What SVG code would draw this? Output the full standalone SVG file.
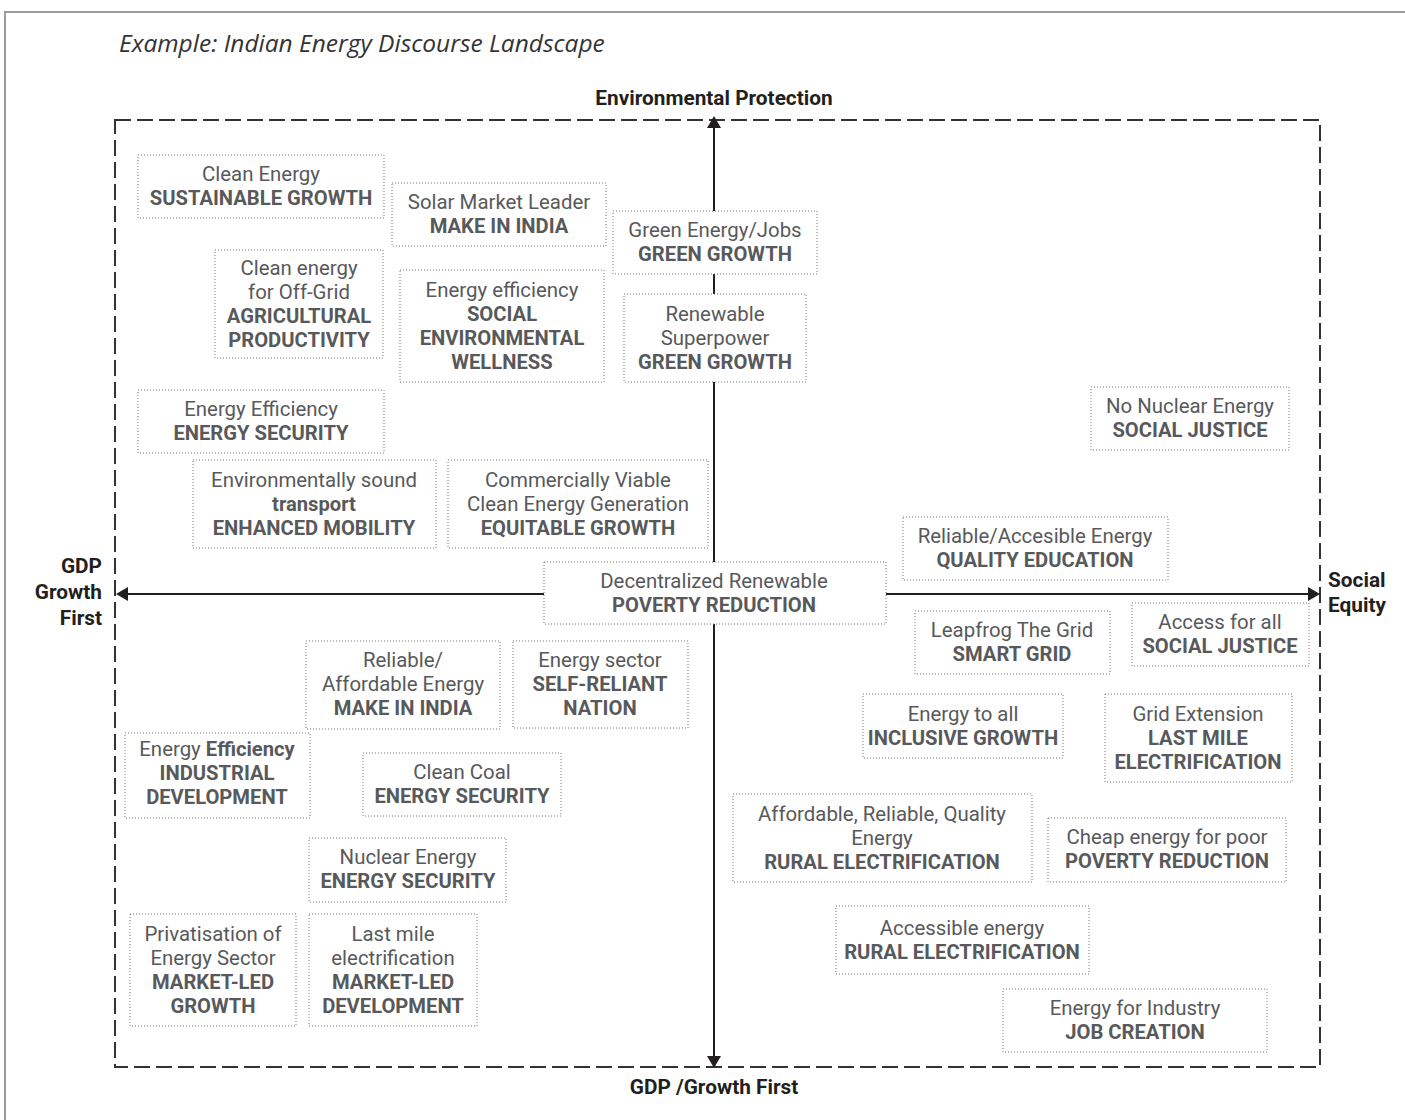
<svg xmlns="http://www.w3.org/2000/svg" width="1405" height="1120" viewBox="0 0 1405 1120">
<style>
.frame{fill:none;stroke:#9a9a9a;stroke-width:2}
.border{fill:none;stroke:#333;stroke-width:2;stroke-dasharray:16 6}
.axis{stroke:#231f20;stroke-width:2;fill:none}
.head{fill:#231f20}
.box{fill:#fff;stroke:#777;stroke-width:1;stroke-dasharray:1 2}
.t{font-family:Roboto,"Open Sans",sans-serif;font-size:20.4px;fill:#58595b;text-anchor:middle}
.b{font-weight:bold;font-size:20.2px}
.ax{font-family:Roboto,"Open Sans",sans-serif;font-size:20.8px;font-weight:bold;fill:#231f20}
.title{font-family:"Open Sans","Noto Sans",sans-serif;font-size:24.5px;font-style:italic;fill:#333}
</style>
<rect class="frame" x="5" y="12" width="1420" height="1130"/>
<text class="title" x="119" y="52">Example: Indian Energy Discourse Landscape</text>
<rect class="border" x="115" y="120" width="1205" height="947"/>
<g id="connectors">
<line class="axis" x1="714" y1="126" x2="714" y2="1060"/>
<polygon class="head" points="714,116 707,128 721,128"/>
<polygon class="head" points="714,1068 707,1056 721,1056"/>
<line class="axis" x1="126" y1="594" x2="1310" y2="594"/>
<polygon class="head" points="116,594 128,587 128,601"/>
<polygon class="head" points="1320,594 1308,587 1308,601"/>
</g>
<g id="axis-labels">
<text class="ax" x="714" y="105" text-anchor="middle">Environmental Protection</text>
<text class="ax" x="714" y="1094" text-anchor="middle">GDP /Growth First</text>
<text class="ax" x="102" text-anchor="end"><tspan x="102" y="573">GDP</tspan><tspan x="102" y="599">Growth</tspan><tspan x="102" y="625">First</tspan></text>
<text class="ax" x="1328"><tspan x="1328" y="587">Social</tspan><tspan x="1328" y="612">Equity</tspan></text>
</g>
<g id="n1"><rect class="box" x="138" y="155" width="246" height="63"/><text class="t" x="261" y="181">Clean Energy<tspan class="b" x="261" dy="24">SUSTAINABLE GROWTH</tspan></text></g>
<g id="n2"><rect class="box" x="392" y="183" width="214" height="63"/><text class="t" x="499" y="209">Solar Market Leader<tspan class="b" x="499" dy="24">MAKE IN INDIA</tspan></text></g>
<g id="n3"><rect class="box" x="613" y="211" width="204" height="63"/><text class="t" x="715" y="237">Green Energy/Jobs<tspan class="b" x="715" dy="24">GREEN GROWTH</tspan></text></g>
<g id="n4"><rect class="box" x="215" y="250" width="168" height="108"/><text class="t" x="299" y="275">Clean energy<tspan x="299" dy="24">for Off-Grid</tspan><tspan class="b" x="299" dy="24">AGRICULTURAL</tspan><tspan class="b" x="299" dy="24">PRODUCTIVITY</tspan></text></g>
<g id="n5"><rect class="box" x="400" y="270" width="204" height="112"/><text class="t" x="502" y="297">Energy efficiency<tspan class="b" x="502" dy="24">SOCIAL</tspan><tspan class="b" x="502" dy="24">ENVIRONMENTAL</tspan><tspan class="b" x="502" dy="24">WELLNESS</tspan></text></g>
<g id="n6"><rect class="box" x="624" y="294" width="182" height="88"/><text class="t" x="715" y="321">Renewable<tspan x="715" dy="24">Superpower</tspan><tspan class="b" x="715" dy="24">GREEN GROWTH</tspan></text></g>
<g id="n7"><rect class="box" x="138" y="390" width="246" height="63"/><text class="t" x="261" y="416">Energy Efficiency<tspan class="b" x="261" dy="24">ENERGY SECURITY</tspan></text></g>
<g id="n8"><rect class="box" x="1091" y="387" width="198" height="63"/><text class="t" x="1190" y="413">No Nuclear Energy<tspan class="b" x="1190" dy="24">SOCIAL JUSTICE</tspan></text></g>
<g id="n9"><rect class="box" x="193" y="460" width="243" height="88"/><text class="t" x="314" y="487">Environmentally sound<tspan class="b" x="314" dy="24">transport</tspan><tspan class="b" x="314" dy="24">ENHANCED MOBILITY</tspan></text></g>
<g id="n10"><rect class="box" x="448" y="460" width="260" height="88"/><text class="t" x="578" y="487">Commercially Viable<tspan x="578" dy="24">Clean Energy Generation</tspan><tspan class="b" x="578" dy="24">EQUITABLE GROWTH</tspan></text></g>
<g id="n11"><rect class="box" x="903" y="517" width="265" height="63"/><text class="t" x="1035" y="543">Reliable/Accesible Energy<tspan class="b" x="1035" dy="24">QUALITY EDUCATION</tspan></text></g>
<g id="n12"><rect class="box" x="544" y="562" width="342" height="62"/><text class="t" x="714" y="588">Decentralized Renewable<tspan class="b" x="714" dy="24">POVERTY REDUCTION</tspan></text></g>
<g id="n13"><rect class="box" x="915" y="611" width="195" height="63"/><text class="t" x="1012" y="637">Leapfrog The Grid<tspan class="b" x="1012" dy="24">SMART GRID</tspan></text></g>
<g id="n14"><rect class="box" x="1132" y="603" width="177" height="63"/><text class="t" x="1220" y="629">Access for all<tspan class="b" x="1220" dy="24">SOCIAL JUSTICE</tspan></text></g>
<g id="n15"><rect class="box" x="306" y="641" width="194" height="88"/><text class="t" x="403" y="667">Reliable/<tspan x="403" dy="24">Affordable Energy</tspan><tspan class="b" x="403" dy="24">MAKE IN INDIA</tspan></text></g>
<g id="n16"><rect class="box" x="513" y="641" width="175" height="87"/><text class="t" x="600" y="667">Energy sector<tspan class="b" x="600" dy="24">SELF-RELIANT</tspan><tspan class="b" x="600" dy="24">NATION</tspan></text></g>
<g id="n17"><rect class="box" x="863" y="694" width="200" height="64"/><text class="t" x="963" y="721">Energy to all<tspan class="b" x="963" dy="24">INCLUSIVE GROWTH</tspan></text></g>
<g id="n18"><rect class="box" x="1105" y="694" width="187" height="88"/><text class="t" x="1198" y="721">Grid Extension<tspan class="b" x="1198" dy="24">LAST MILE</tspan><tspan class="b" x="1198" dy="24">ELECTRIFICATION</tspan></text></g>
<g id="n19"><rect class="box" x="125" y="733" width="185" height="85"/><text class="t" x="217" y="756">Energy <tspan class="b">Efficiency</tspan><tspan class="b" x="217" dy="24">INDUSTRIAL</tspan><tspan class="b" x="217" dy="24">DEVELOPMENT</tspan></text></g>
<g id="n20"><rect class="box" x="363" y="753" width="198" height="63"/><text class="t" x="462" y="779">Clean Coal<tspan class="b" x="462" dy="24">ENERGY SECURITY</tspan></text></g>
<g id="n21"><rect class="box" x="733" y="794" width="299" height="88"/><text class="t" x="882" y="821">Affordable, Reliable, Quality<tspan x="882" dy="24">Energy</tspan><tspan class="b" x="882" dy="24">RURAL ELECTRIFICATION</tspan></text></g>
<g id="n22"><rect class="box" x="1048" y="818" width="238" height="64"/><text class="t" x="1167" y="844">Cheap energy for poor<tspan class="b" x="1167" dy="24">POVERTY REDUCTION</tspan></text></g>
<g id="n23"><rect class="box" x="309" y="838" width="197" height="64"/><text class="t" x="408" y="864">Nuclear Energy<tspan class="b" x="408" dy="24">ENERGY SECURITY</tspan></text></g>
<g id="n24"><rect class="box" x="836" y="906" width="253" height="68"/><text class="t" x="962" y="935">Accessible energy<tspan class="b" x="962" dy="24">RURAL ELECTRIFICATION</tspan></text></g>
<g id="n25"><rect class="box" x="130" y="914" width="166" height="112"/><text class="t" x="213" y="941">Privatisation of<tspan x="213" dy="24">Energy Sector</tspan><tspan class="b" x="213" dy="24">MARKET-LED</tspan><tspan class="b" x="213" dy="24">GROWTH</tspan></text></g>
<g id="n26"><rect class="box" x="309" y="914" width="168" height="112"/><text class="t" x="393" y="941">Last mile<tspan x="393" dy="24">electrification</tspan><tspan class="b" x="393" dy="24">MARKET-LED</tspan><tspan class="b" x="393" dy="24">DEVELOPMENT</tspan></text></g>
<g id="n27"><rect class="box" x="1003" y="989" width="264" height="63"/><text class="t" x="1135" y="1015">Energy for Industry<tspan class="b" x="1135" dy="24">JOB CREATION</tspan></text></g>
</svg>
